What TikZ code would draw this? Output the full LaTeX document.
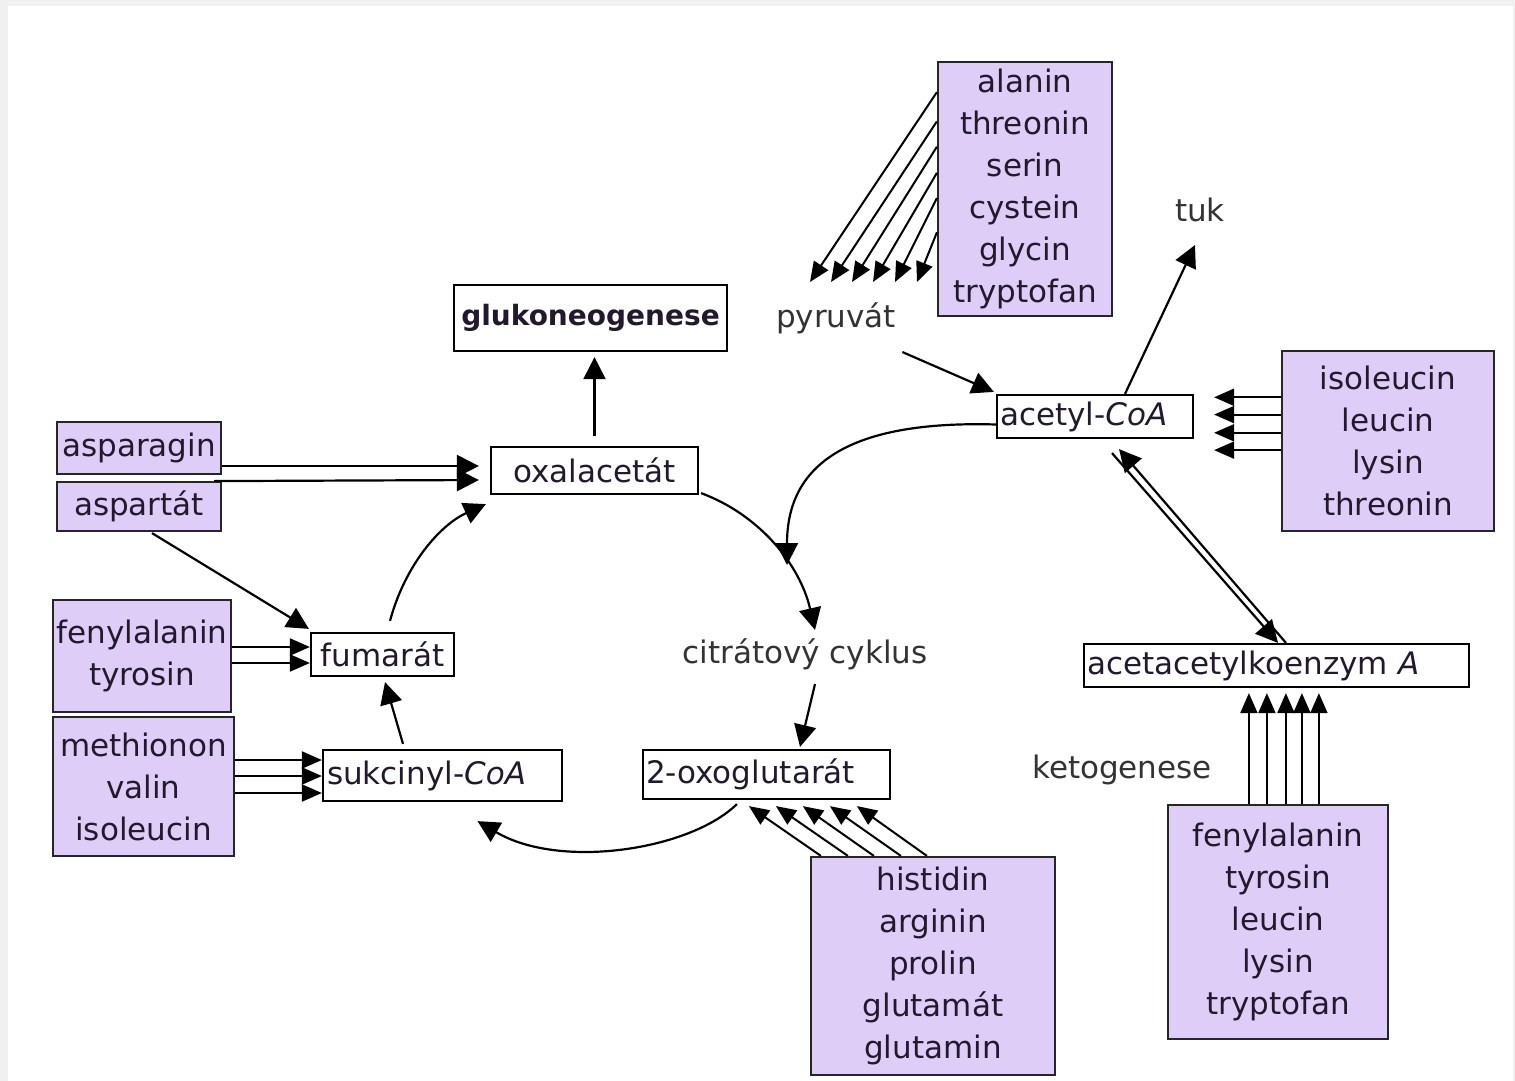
\documentclass[tikz,border=0pt]{standalone}
\usepackage{fontspec}
\setmainfont{DejaVu Sans}
\usetikzlibrary{arrows.meta,calc}
\definecolor{lav}{RGB}{222,205,247}
\definecolor{ink}{RGB}{35,25,45}
\begin{document}
\begin{tikzpicture}[x=0.5pt,y=-0.5pt,
  every node/.style={font=\fontsize{15.5}{21}\selectfont, text=ink},
  box/.style={draw=black, line width=1.1pt, fill=white, inner sep=0pt},
  aa/.style={draw=black!85, line width=1.1pt, fill=lav, inner sep=0pt, align=center},
  lbl/.style={text=black!80, inner sep=2pt},
  arr/.style={line width=1.1pt, -{Triangle[length=11pt,width=11pt]}},
  arrs/.style={line width=1pt, -{Triangle[length=10pt,width=8.5pt]}}]
\fill[black!6] (0,0) rectangle (1515,1081);
\fill[white] (8,6) rectangle (1513,1081);
\useasboundingbox (0,0) rectangle (1515,1081);

% nodes
\node[aa, minimum width=87pt, minimum height=127pt] (ala) at (1025,189) {alanin\\threonin\\serin\\cystein\\glycin\\tryptofan};
\node[box, minimum width=136.5pt, minimum height=33pt, font=\fontsize{14}{16}\selectfont\bfseries] (gluk) at (590.5,318) {glukoneogenese};
\node[lbl] (pyr) at (836,318) {pyruvát};
\node[lbl] (tuk) at (1200,210) {tuk};
\node[box, text width=95pt, inner xsep=1.5pt, align=left, minimum height=21.5pt] (acetyl) at (1095,416.5) {acetyl-\textit{CoA}};
\node[aa, minimum width=106pt, minimum height=90pt] (iso) at (1388,441) {isoleucin\\leucin\\lysin\\threonin};
\node[aa, minimum width=82pt, minimum height=26pt] (asn) at (139,448) {asparagin};
\node[aa, minimum width=82pt, minimum height=24.5pt] (asp) at (139,506.5) {aspartát};
\node[box, minimum width=103.5pt, minimum height=23.5pt] (oxal) at (594.5,470.5) {oxalacetát};
\node[aa, minimum width=89pt, minimum height=56pt] (fenl) at (142,656) {fenylalanin\\tyrosin};
\node[box, minimum width=71.5pt, minimum height=21.5pt] (fum) at (382.5,654.5) {fumarát};
\node[aa, minimum width=90.5pt, minimum height=69.5pt] (meth) at (143.5,786.5) {methionon\\valin\\isoleucin};
\node[box, text width=115.5pt, inner xsep=2pt, align=left, minimum height=25.5pt] (suk) at (442.5,775.5) {sukcinyl-\textit{CoA}};
\node[box, text width=120.5pt, inner xsep=1.5pt, align=left, minimum height=24.5pt] (oxo) at (766.5,774.5) {2-oxoglutarát};
\node[lbl] (citr) at (805,654) {citrátový cyklus};
\node[aa, minimum width=122pt, minimum height=109pt] (his) at (933,966) {histidin\\arginin\\prolin\\glutamát\\glutamin};
\node[box, text width=189.5pt, inner xsep=1.5pt, align=left, minimum height=21.5pt] (acac) at (1276.5,665.5) {acetacetylkoenzym \textit{A}};
\node[lbl] (keto) at (1122,770) {ketogenese};
\node[aa, minimum width=110pt, minimum height=117pt] (fenr) at (1278,922) {fenylalanin\\tyrosin\\leucin\\lysin\\tryptofan};

% alanin ... -> pyruvat
\foreach \f/\dx in {0.122/-26, 0.236/-5, 0.335/16, 0.437/37, 0.535/59, 0.669/81}
  \draw[arrs] ($(ala.north west)!\f!(ala.south west)$) -- ($(pyr)+(\dx,-36)$);
% pyruvat -> acetyl-CoA
\draw[arr] ($(pyr.south east)+(2,14)$) -- ($(acetyl.north west)+(-2,-2)$);
% acetyl-CoA -> tuk
\draw[arr] ($(acetyl.north)+(30,0)$) -- ($(tuk)+(-5,35)$);
% isoleucin ... -> acetyl-CoA
\coordinate (isotip) at ($(acetyl.east)+(20,0)$);
\foreach \f in {0.26,0.355,0.455,0.55} {
  \coordinate (s) at ($(iso.north west)!\f!(iso.south west)$);
  \draw[arrs] (s) -- (s -| isotip);
}
% acetyl-CoA <-> acetacetylkoenzym A
\draw[arr] ($(acac.north)+(9.5,0)$) -- ($(acetyl.south)+(24,10)$);
\draw[arr] ($(acetyl.south)+(17,14)$) -- ($(acac.north)+(1.5,0)$);
% acetyl-CoA -> cycle
\coordinate (cA) at ($(citr)+(-18,-89)$);
\draw[arr] ($(acetyl.west)+(0,8)$) .. controls (840,420) and (787,470) .. (cA);
% oxalacetat -> cycle
\coordinate (cB) at ($(citr)+(10,-24)$);
\draw[arr] ($(oxal.south east)+(2,-2)$) .. controls (760,515) and (800,565) .. (cB);
% cycle -> 2-oxoglutarat
\draw[arr] ($(citr.south)+(10,10)$) -- ($(oxo.north)+(33.5,-2)$);
% 2-oxoglutarat -> sukcinyl-CoA
\draw[arr] ($(oxo.south west)+(95,4)$) .. controls (690,850) and (560,870) .. ($(suk.south)+(35,19)$);
% histidin ... -> 2-oxoglutarat
\foreach \a/\b in {11/107, 38/134, 64/161, 91/188, 117/215}
  \draw[arrs] ($(his.north west)+(\a,0)$) -- ($(oxo.south west)+(\b,6)$);
% asparagin, aspartat -> oxalacetat
\draw[arr] ($(asn.east)+(0,18)$) -- ($(oxal.west)+(-11,-4.5)$);
\draw[arr] ($(asn.south east)+(-8,6)$) -- ($(oxal.west)+(-11,9.5)$);
% aspartat -> fumarat
\draw[arr] ($(asp.south)+(13,1)$) -- ($(fum.north west)+(-1,-3)$);
% fumarat -> oxalacetat
\draw[arr] ($(fum.north)+(7.5,-11)$) .. controls (405,565) and (440,525) .. ($(oxal.south west)+(-4,9)$);
% fenylalanin, tyrosin -> fumarat
\foreach \o in {-7.5, 8.5} {
  \coordinate (s) at ($(fum.west)+(0,\o)$);
  \draw[arrs] (s -| fenl.east) -- (s);
}
% methionon ... -> sukcinyl-CoA
\foreach \o in {-15.5, 0.5, 17.5} {
  \coordinate (s) at ($(suk.west)+(0,\o)$);
  \draw[arrs] (s -| meth.east) -- (s);
}
% sukcinyl-CoA -> fumarat
\draw[arr] ($(suk.north)+(-39.5,-5)$) -- ($(fum.south)+(2.5,5)$);
% oxalacetat -> glukoneogenese
\draw[arr] ($(oxal.north)+(0,-10)$) -- ($(gluk.south -| oxal.north)+(0,5)$);
% fenylalanin ... -> acetacetylkoenzym A
\coordinate (ft) at ($(acac.south)+(0,5)$);
\foreach \a in {82,100,119,135,152} {
  \coordinate (s) at ($(fenr.north west)+(\a,0)$);
  \draw[arrs] (s) -- (s |- ft);
}
\end{tikzpicture}
\end{document}
